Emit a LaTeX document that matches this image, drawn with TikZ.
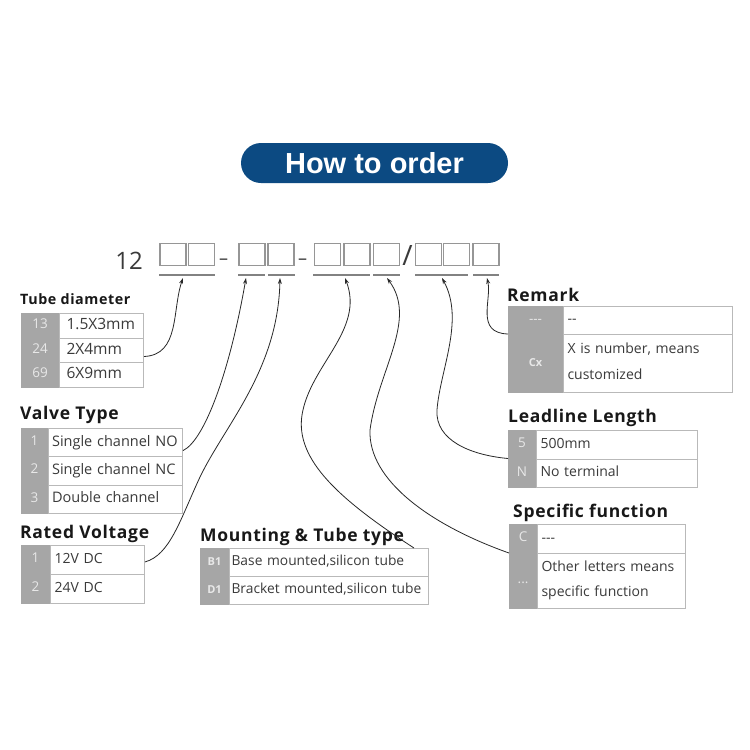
\documentclass[tikz,border=0pt]{standalone}
\usepackage{fontspec}
\setmainfont{Open Sans}
\newfontfamily\pillfont{Liberation Sans}
\newfontfamily\headfont[LetterSpace=4]{Open Sans}
\usetikzlibrary{arrows.meta}
\definecolor{pillblue}{RGB}{12,74,130}
\definecolor{graycol}{RGB}{166,166,166}
\definecolor{cellline}{RGB}{185,185,185}
\definecolor{keytxt}{RGB}{232,232,232}
\definecolor{valtxt}{RGB}{58,58,58}
\definecolor{ttltxt}{RGB}{24,24,24}
\definecolor{boxline}{RGB}{150,150,150}
\definecolor{ulcol}{RGB}{130,130,130}
\definecolor{wirecol}{RGB}{40,40,40}
\newcommand{\smallkeytext}{\bfseries\fontsize{11}{13}\selectfont}
\newcommand{\optrow}[9]{%
  \node[keycell, minimum width=#4, minimum height=#6] (#1k) at (#2,#3) {#8};
  \node[valcell, text width=#5, minimum height=#6, #7] (#1v) at (#1k.north east) {#9};}
\begin{document}
\begin{tikzpicture}[x=1pt,y=-1pt,
  pill/.style={fill=pillblue, rounded corners=20pt, minimum width=267pt, minimum height=40pt, text=white, font=\pillfont\bfseries\fontsize{29}{32}\selectfont, inner sep=0pt},
  heading/.style={anchor=base west, inner sep=0pt, text=ttltxt, font=\headfont\bfseries\fontsize{17.5}{20}\selectfont},
  keycell/.style={anchor=north west, fill=graycol, draw=graycol, line width=0.1pt, inner sep=0pt, text=keytxt, font=\fontsize{13.5}{16}\selectfont, execute at begin node={\strut}},
  valcell/.style={anchor=north west, fill=white, draw=cellline, line width=0.9pt, inner xsep=4pt, inner ysep=0pt, align=left, text=valtxt, font=\fontsize{14}{17}\selectfont, execute at begin node={\strut}, execute at end node={\strut}},
  codebox/.style={draw=boxline, line width=1.1pt, minimum width=26pt, minimum height=22.5pt, inner sep=0pt},
  uline/.style={fill=ulcol, minimum height=1.6pt, inner sep=0pt},
  codechar/.style={inner sep=0pt, text=valtxt},
  wire/.style={draw=wirecol, line width=0.8pt, -{Stealth[length=6pt,width=4pt]}}
]
\useasboundingbox (0,0) rectangle (750,750);
\fill[white] (0,0) rectangle (750,750);

% title
\node[pill] (title) at (374.5,163) {How to order};

% order code
\node[codechar, font=\fontsize{24}{26}\selectfont] (n12) at (129,261) {12};
\node[codebox] (b1) at (173,254.5) {};
\node[codebox] (b2) at (201.5,254.5) {};
\node[codechar, anchor=base, font=\fontsize{18}{20}\selectfont] (d1) at (223.5,264) {–};
\node[codebox] (b3) at (252,254.5) {};
\node[codebox] (b4) at (281,254.5) {};
\node[codechar, anchor=base, font=\fontsize{18}{20}\selectfont] (d2) at (302.5,264) {–};
\node[codebox] (b5) at (327.5,254.5) {};
\node[codebox] (b6) at (357,254.5) {};
\node[codebox] (b7) at (386.5,254.5) {};
\node[codechar, font=\fontsize{28}{30}\selectfont] (sl) at (407.5,256) {/};
\node[codebox] (b8) at (428.5,254.5) {};
\node[codebox] (b9) at (456.5,254.5) {};
\node[codebox] (b10) at (486,254.5) {};

\node[uline, minimum width=56pt] (u1) at (187,275) {};
\node[uline, minimum width=27pt] (u2) at (251.5,275) {};
\node[uline, minimum width=27pt] (u3) at (281.5,275) {};
\node[uline, minimum width=57pt] (u4) at (341.5,275) {};
\node[uline, minimum width=27pt] (u5) at (386.5,275) {};
\node[uline, minimum width=53pt] (u6) at (441.5,275) {};
\node[uline, minimum width=26pt] (u7) at (486,275) {};

\coordinate (t1) at (183,278);
\coordinate (t2) at (246,278);
\coordinate (t3) at (280,278);
\coordinate (t4) at (345,278);
\coordinate (t5) at (387,278);
\coordinate (t6) at (442,278);
\coordinate (t7) at (487,278);

% Tube diameter
\node[heading, font=\headfont\bfseries\fontsize{14.3}{17}\selectfont] (h1) at (20,304) {Tube diameter};
\optrow{td1}{21}{313}{38}{70}{24.7}{inner xsep=7pt, font=\fontsize{15.5}{18}\selectfont}{13}{1.5X3mm}
\optrow{td2}{21}{337.7}{38}{70}{24.7}{inner xsep=7pt, font=\fontsize{15.5}{18}\selectfont}{24}{2X4mm}
\optrow{td3}{21}{362.3}{38}{70}{24.7}{inner xsep=7pt, font=\fontsize{15.5}{18}\selectfont}{69}{6X9mm}

% Valve type
\node[heading] (h2) at (20,419) {Valve Type};
\optrow{vt1}{21}{428}{27}{130}{28.3}{inner xsep=2pt, font=\fontsize{14.5}{17}\selectfont}{1}{\hspace{1.5pt}Single channel NO}
\optrow{vt2}{21}{456.3}{27}{130}{28.3}{inner xsep=2pt, font=\fontsize{14.5}{17}\selectfont}{2}{\hspace{1.5pt}Single channel NC}
\optrow{vt3}{21}{484.6}{27}{130}{28.3}{inner xsep=2pt, font=\fontsize{14.5}{17}\selectfont}{3}{\hspace{1.5pt}Double channel}

% Rated voltage
\node[heading] (h3) at (20,538) {Rated Voltage};
\optrow{rv1}{21}{545}{29}{86}{29}{}{1}{12V DC}
\optrow{rv2}{21}{574}{29}{86}{29}{}{2}{24V DC}

% Mounting
\node[heading] (h4) at (200,541) {Mounting \& Tube type};
\optrow{mt1}{200}{548}{29}{195}{28}{inner xsep=2pt, font=\fontsize{13.8}{17}\selectfont}{\smallkeytext B1}{Base mounted,silicon tube}
\optrow{mt2}{200}{576}{29}{195}{28}{inner xsep=2pt, font=\fontsize{13.8}{17}\selectfont}{\smallkeytext D1}{Bracket mounted,silicon tube}

% Remark
\node[heading] (h5) at (507,301) {Remark};
\optrow{rm1}{508}{306}{55}{161}{28}{}{-{}-{}-}{-{}-}
\optrow{rm2}{508}{334}{55}{161}{58}{}{\smallkeytext Cx}{X is number, means\\[9pt]customized}

% Leadline length
\node[heading] (h6) at (508,422) {Leadline Length};
\optrow{ll1}{508}{430}{28}{153}{28.5}{}{5}{500mm}
\optrow{ll2}{508}{458.5}{28}{153}{28.5}{}{N}{No terminal}

% Specific function
\node[heading] (h7) at (513,517) {Specific function};
\optrow{sf1}{509}{524}{28}{140}{29}{}{C}{-{}-{}-}
\optrow{sf2}{509}{553}{28}{140}{55}{}{...}{Other letters means\\[8pt]specific function}

% connectors
\draw[wire] ([yshift=-6pt]td2v.east) .. controls (180,355) and (172,310) .. (t1);
\draw[wire] ([yshift=-8pt]vt1v.east) .. controls (205,440) and (230,370) .. (t2);
\draw[wire] ([yshift=-2pt]rv1v.east) .. controls (170,555) and (180,520) .. (200,477)
  .. controls (225,425) and (278,370) .. (t3);
\draw[wire] ([xshift=-15pt]mt1v.north east) .. controls (340,500) and (295,460) .. (302,415)
  .. controls (310,365) and (365,330) .. (t4);
\draw[wire] (sf2k.north west) .. controls (430,525) and (368,480) .. (370,430)
  .. controls (378,370) and (418,320) .. (t5);
\draw[wire] (ll2k.north west) .. controls (470,455) and (435,440) .. (437,410)
  .. controls (440,370) and (465,320) .. (t6);
\draw[wire] (rm2k.north west) .. controls (475,333) and (492,300) .. (t7);
\end{tikzpicture}
\end{document}
